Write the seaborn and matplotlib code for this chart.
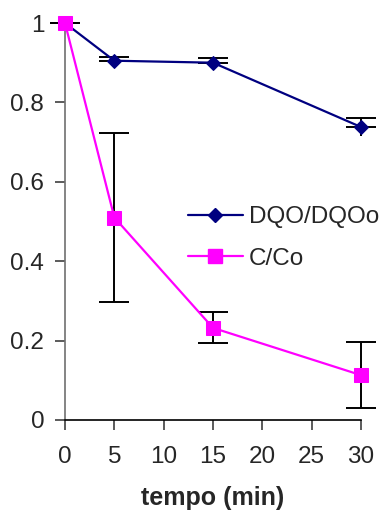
import matplotlib
matplotlib.use("Agg")
import matplotlib.pyplot as plt
import seaborn as sns
import pandas as pd
from matplotlib.lines import Line2D

# Data
tempo = [0, 5, 15, 30]
dqo = [1.0, 0.905, 0.900, 0.738]
dqo_err = [0.0, 0.010, 0.011, 0.022]
cco = [1.0, 0.51, 0.232, 0.113]
cco_err = [0.0, 0.213, 0.039, 0.084]
series_labels = ["DQO/DQOo", "C/Co"]
xticks = [0, 5, 10, 15, 20, 25, 30]
yticks = [0, 0.2, 0.4, 0.6, 0.8, 1.0]
ytick_labels = ["0", "0.2", "0.4", "0.6", "0.8", "1"]

sns.set_style("white")
plt.rcParams['font.family'] = ['Liberation Sans', 'DejaVu Sans']

NAVY = "#000080"
MAG = "#FF00FF"

fig = plt.figure(figsize=(3.86, 5.13), dpi=100)
ax = fig.add_axes([65/386, 1-420/513, (361-65)/386, (420-23)/513])

df1 = pd.DataFrame({"tempo": tempo, "v": dqo})
df2 = pd.DataFrame({"tempo": tempo, "v": cco})

zeros = [0] * len(tempo)
# DQO: upper with caps, lower without caps
ax.errorbar(tempo, dqo, yerr=[zeros, dqo_err], fmt='none', ecolor='black', elinewidth=1.4,
            capsize=10.5, capthick=1.4, zorder=2, clip_on=False)
ax.errorbar(tempo, dqo, yerr=[dqo_err, zeros], fmt='none', ecolor='black', elinewidth=1.4,
            capsize=0, zorder=2, clip_on=False)
ax.errorbar(tempo, cco, yerr=cco_err, fmt='none', ecolor='black', elinewidth=1.4,
            capsize=10.5, capthick=1.4, zorder=2, clip_on=False)

sns.lineplot(data=df1, x="tempo", y="v", ax=ax, color=NAVY, marker='D', markersize=7.5,
             markeredgecolor=NAVY, linewidth=1.6, errorbar=None, zorder=3)
sns.lineplot(data=df2, x="tempo", y="v", ax=ax, color=MAG, marker='s', markersize=9.5,
             markeredgecolor=MAG, linewidth=1.6, errorbar=None, zorder=4)
for ln in ax.lines:
    ln.set_clip_on(False)

ax.set_xlim(0, 30)
ax.set_ylim(0, 1)
ax.set_xticks(xticks)
ax.set_xticklabels([str(t) for t in xticks])
ax.set_yticks(yticks)
ax.set_yticklabels(ytick_labels)

for s in ["top", "right"]:
    ax.spines[s].set_visible(False)
ax.spines["left"].set_color("#707070")
ax.spines["left"].set_linewidth(1.2)
ax.spines["bottom"].set_color("black")
ax.spines["bottom"].set_linewidth(1.2)

ax.tick_params(axis='y', direction='out', length=7, width=1.2, color='#404040',
               pad=8, labelsize=17.5, left=True)
ax.tick_params(axis='x', direction='out', length=7, width=1.2, color='#404040',
               pad=12, labelsize=17.5, bottom=True)

ax.set_xlabel("tempo (min)", fontsize=18, fontweight='bold', labelpad=13)
ax.set_ylabel("")

handles = [
    Line2D([], [], color=NAVY, marker='D', markersize=7.5, linewidth=1.6),
    Line2D([], [], color=MAG, marker='s', markersize=9.5, linewidth=1.6),
]
ax.legend(handles, series_labels, loc='center left', bbox_to_anchor=(188/386, 1-238/513),
          bbox_transform=fig.transFigure, frameon=False, fontsize=17.5,
          handlelength=2.25, handletextpad=0.25, labelspacing=0.8, borderpad=0,
          borderaxespad=0)

fig.savefig("out.png", dpi=100)
